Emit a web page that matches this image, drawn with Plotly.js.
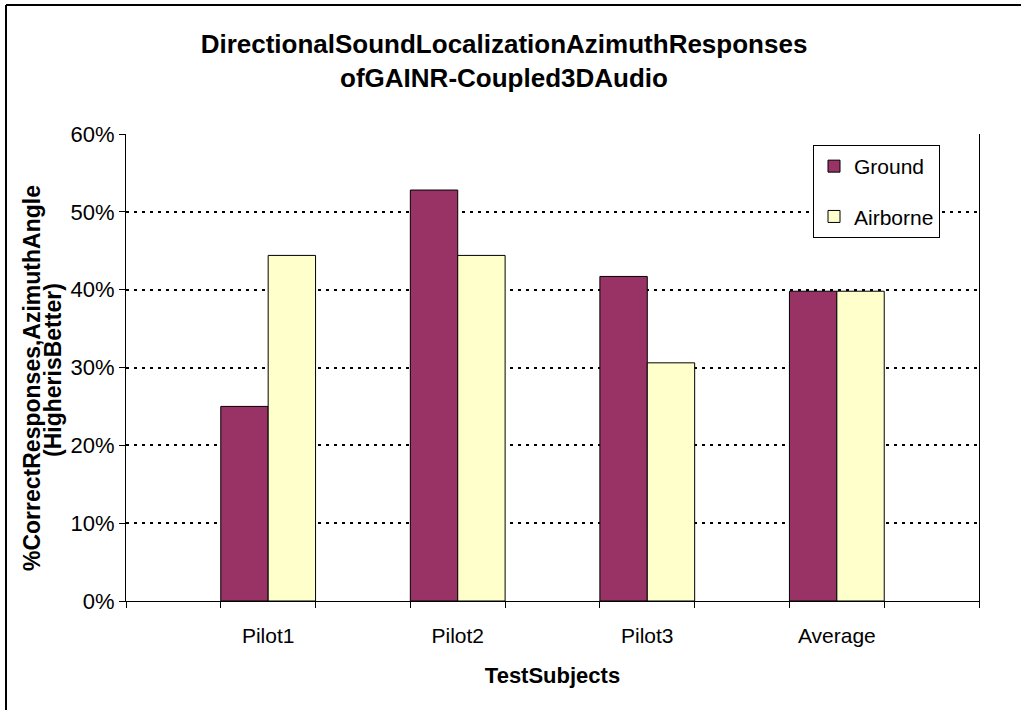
<!DOCTYPE html>
<html>
<head>
<meta charset="utf-8">
<script src="https://cdn.plot.ly/plotly-3.0.1.min.js"></script>
<style>html,body{margin:0;padding:0;background:#fff;}#chart{width:1021px;height:710px;}</style>
</head>
<body>
<div id="chart"></div>
<script>
const categories = ['Pilot1', 'Pilot2', 'Pilot3', 'Average'];
const groundValues = [0.25, 0.528, 0.417, 0.398];
const airborneValues = [0.444, 0.444, 0.306, 0.398];
const seriesNames = ['Ground', 'Airborne'];
const yTickVals = [0, 0.1, 0.2, 0.3, 0.4, 0.5, 0.6];
const titleText = 'DirectionalSoundLocalizationAzimuthResponses<br>ofGAINR-Coupled3DAudio';
const xTitleText = 'TestSubjects';
const yTitleLines = ['%CorrectResponses,AzimuthAngle', '(HigherisBetter)'];

// each category occupies one slot out of two on a 9-slot axis
const xPos = categories.map((c, i) => 2 * i + 1.5);
const slotEdges = [];
for (let k = 0; k <= 9; k++) slotEdges.push(k);

const FONT = 'Liberation Sans, Arial, sans-serif';

const traces = [
  {
    type: 'bar', name: seriesNames[0], x: xPos, y: groundValues,
    marker: {color: '#993366', line: {color: '#000000', width: 1}},
    legendgroup: 'g1', hoverinfo: 'skip'
  },
  {
    type: 'bar', name: seriesNames[1], x: xPos, y: airborneValues,
    marker: {color: '#FFFFCC', line: {color: '#000000', width: 1}},
    legendgroup: 'g2', hoverinfo: 'skip'
  }
];

const L = 126, R = 979, T = 134, B = 601, W = 1021, H = 710;
const px2x = p => (p - L) / (R - L);
const px2y = p => (B - p) / (B - T);

const yTitleX = [32, 53];
const yTitleY = [378, 370];

const layout = {
  width: W, height: H,
  paper_bgcolor: '#ffffff', plot_bgcolor: '#ffffff',
  margin: {l: L, r: W - R, t: T, b: H - B, pad: 0},
  font: {family: FONT, size: 21, color: '#000000'},
  barmode: 'group', bargap: 0.5, bargroupgap: 0,
  showlegend: true,
  title: {
    text: titleText,
    font: {family: FONT, size: 26, weight: 'bold', color: '#000000'},
    x: 504 / W, xanchor: 'center', xref: 'container',
    y: 1 - 53 / H, yanchor: 'middle', yref: 'container'
  },
  xaxis: {
    range: [0, 9], fixedrange: true,
    tickmode: 'array', tickvals: xPos, ticktext: categories,
    ticks: '', ticklabelstandoff: 16,
    tickfont: {family: FONT, size: 21, color: '#000000'},
    minor: {tickmode: 'array', tickvals: slotEdges, ticks: 'outside', ticklen: 6, tickcolor: '#000000', tickwidth: 1, showgrid: false},
    showline: true, linecolor: '#000000', linewidth: 1,
    showgrid: false, zeroline: false,
    title: {text: xTitleText, font: {family: FONT, size: 22, weight: 'bold', color: '#000000'}, standoff: 21}
  },
  yaxis: {
    range: [0, 0.6], fixedrange: true,
    tickmode: 'array', tickvals: yTickVals, tickformat: '.0%',
    ticks: 'outside', ticklen: 6, tickcolor: '#000000', tickwidth: 1,
    tickfont: {family: FONT, size: 22, color: '#000000'},
    showline: true, mirror: true, linecolor: '#000000', linewidth: 1,
    showgrid: true, gridcolor: '#000000', gridwidth: 2, griddash: '3px,5px',
    zeroline: false
  },
  legend: {
    x: px2x(813), y: px2y(145), xanchor: 'left', yanchor: 'top',
    bgcolor: '#ffffff', bordercolor: '#000000', borderwidth: 1,
    font: {family: FONT, size: 21, color: '#000000'},
    traceorder: 'grouped', tracegroupgap: 20, itemclick: false,
    entrywidth: 132, entrywidthmode: 'pixels'
  },
  annotations: yTitleLines.map((t, i) => ({
    text: t, textangle: -90, showarrow: false,
    xref: 'paper', yref: 'paper', x: px2x(yTitleX[i]), y: px2y(yTitleY[i]),
    xanchor: 'center', yanchor: 'middle',
    font: {family: FONT, size: 23, weight: 'bold', color: '#000000'}
  })),
  shapes: [
    {type: 'line', xref: 'paper', yref: 'paper', x0: px2x(6), x1: px2x(1030), y0: px2y(5), y1: px2y(5), line: {color: '#000000', width: 2}},
    {type: 'line', xref: 'paper', yref: 'paper', x0: px2x(6), x1: px2x(6), y0: px2y(5), y1: px2y(720), line: {color: '#000000', width: 2}}
  ]
};

Plotly.newPlot('chart', traces, layout, {staticPlot: true, displayModeBar: false});
</script>
</body>
</html>
